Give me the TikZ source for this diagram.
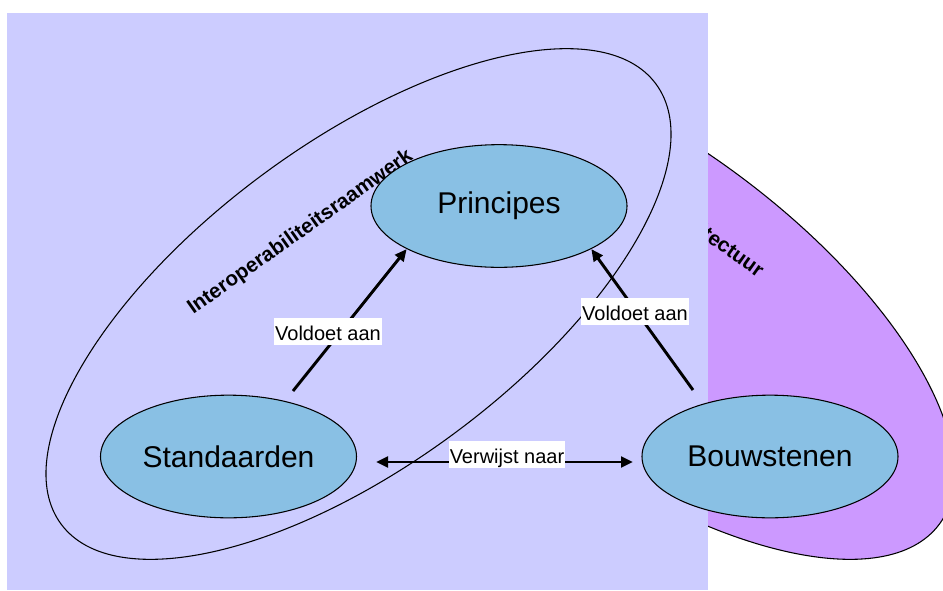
\documentclass[tikz,border=0pt]{standalone}
\usepackage{fontspec}
\setmainfont{Liberation Sans}
\usetikzlibrary{arrows.meta,shapes.geometric}

\definecolor{achtergrond}{RGB}{204,204,255}
\definecolor{paars}{RGB}{204,153,255}
\definecolor{blokblauw}{RGB}{137,192,228}

\tikzset{
	blok/.style={ellipse, draw=black, line width=0.8pt, fill=blokblauw, minimum width=192pt, minimum height=92pt, inner sep=0pt, font=\fontsize{22.5}{27}\selectfont},
	pijl/.style={line width=2.2pt, >={Triangle[length=9pt,width=8pt]}},
	etiket/.style={fill=white, inner xsep=0.8pt, inner ysep=1pt, text height=15.5pt, text depth=2.75pt, font=\fontsize{15}{18}\selectfont},
	kader/.style={inner sep=0pt, font=\bfseries\fontsize{15.5}{18}\selectfont}
}

\begin{document}
\begin{tikzpicture}[x=0.75pt,y=0.75pt,yscale=-1,xscale=1]
	\clip (0,0) rectangle (943,590);
	
	%Shape: Ellipse (architectuur)
	\draw [fill=paars, line width=0.8pt, shift={(642,304)}, rotate=36.5] (0,0) ellipse (370 and 161);
	% Text Node
	\node [kader, rotate=-35.5] (architectuur) at (712,236) {Architectuur};
	
	%Shape: Rectangle
	\fill [achtergrond] (7,13) rectangle (708,590);
	
	%Shape: Ellipse (raamwerk)
	\draw [line width=0.8pt, shift={(358.5,304)}, rotate=-36.5] (0,0) ellipse (370 and 161);
	% Text Node
	\node [kader, rotate=35.2] (raamwerk) at (300.5,232.5) {Interoperabiliteitsraamwerk};
	
	% Blokken
	\node [blok] (principes) at (499,206) {Principes};
	\node [blok] (standaarden) at (228.5,456.5) {Standaarden};
	\node [blok] (bouwstenen) at (770,456.5) {Bouwstenen};
	
	\coordinate (vanS) at (293,391);
	\coordinate (vanB) at (693,390);
	\coordinate (verwS) at (376,462);
	\coordinate (verwB) at (633,462);
	
	%Straight Lines
	\draw [pijl,->] (vanS) -- (principes.205);
	%Straight Lines
	\draw [pijl,->] (vanB) -- (principes.-25);
	%Straight Lines
	\draw [pijl,<->] (verwS) -- (verwB);
	
	% Text Node
	\node [etiket] (voldoetS) at (328,331.5) {Voldoet aan};
	% Text Node
	\node [etiket] (voldoetB) at (635,311.5) {Voldoet aan};
	% Text Node
	\node [etiket] (verwijst) at (507,454.5) {Verwijst naar};
	
\end{tikzpicture}
\end{document}
